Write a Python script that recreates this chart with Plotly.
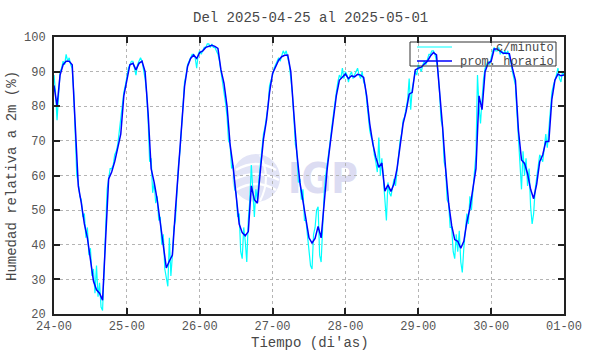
import base64
import plotly.graph_objects as go

# ---------------- data ----------------
hourly_rh = [86, 80, 89, 92, 93, 93, 92, 75, 57, 52, 46, 42, 35, 29.5, 27, 26, 24, 42, 59, 61,
             64, 68, 72, 83, 88, 92, 92.4, 90.5, 92.4, 93, 90, 78, 62, 58, 53, 46, 40, 33.3, 35.3, 37,
             50, 61, 72, 85.7, 91.5, 93.8, 94.8, 93.8, 95.5, 96, 97, 97.4, 97.6, 97.3, 96.7, 90.5, 86.6, 80, 69, 62.5,
             55, 46, 43.5, 42.6, 43.8, 57, 53, 52, 61.6, 70.5, 76, 84, 89.5, 91.5, 93.3, 94.3, 94.7, 94.8, 90, 78,
             66.5, 58, 53, 47.5, 42, 40.5, 41.8, 45.3, 42, 52, 62, 69.3, 76.5, 83, 87.5, 88.5, 89.3, 88, 88.8, 88.5,
             89.2, 89, 88.3, 83, 75, 69.3, 65.3, 62.4, 63.6, 55.5, 57.3, 55.4, 57.6, 62, 69, 75, 78.5, 83.5, 84, 90.5,
             91, 91.3, 92.2, 93, 94.5, 95.5, 94.8, 85.5, 74, 62, 52, 45.5, 41.5, 41, 39, 41, 46.5, 50.5, 57, 62,
             83, 79, 90, 92.4, 93, 96.5, 96.5, 95.8, 95.3, 95.3, 95.2, 91, 87.5, 73, 64.5, 63.5, 60.5, 56, 53.3, 57.5,
             64, 66, 69.8, 69.8, 82, 87.5, 89.3, 88.8, 89]
hourly_t = list(range(len(hourly_rh)))

# per-minute series (sampled every 30 min), one list per day
min_day24 = [89, 84, 76, 85, 90, 91, 93, 92, 95, 93, 94, 92, 91, 84, 70, 60, 58, 54, 53, 48, 49, 42, 45, 37,
             39, 31, 33, 26, 34, 25, 29, 22, 21, 32, 45, 56, 59, 62, 62, 63, 66, 67, 69, 73, 76, 80, 84, 86]
min_day25 = [89, 91, 92, 93, 93, 91, 89, 92, 93, 94, 93, 91, 88, 84, 76, 64, 65, 55, 58, 52, 54, 47, 48, 40,
             43, 33, 30, 28, 42, 31, 37, 45, 47, 57, 63, 67, 73, 80, 87, 89, 92, 93, 94, 95, 95, 94, 91, 95]
min_day26 = [96, 95, 96, 97, 97, 98, 98, 97, 98, 97, 97, 96, 95, 93, 90, 88, 84, 81, 77, 70, 69, 62, 63, 56,
             55, 48, 49, 38, 36, 45, 41, 35, 47, 53, 63, 54, 48, 56, 53, 59, 63, 67, 72, 74, 77, 80, 86, 88]
min_day27 = [89, 91, 92, 93, 94, 93, 95, 96, 95, 96, 94, 92, 88, 84, 77, 69, 67, 58, 59, 53, 56, 47, 47, 42,
             39, 34, 33, 43, 45, 50, 51, 37, 35, 47, 55, 60, 63, 66, 70, 74, 78, 81, 84, 87, 89, 88, 91, 88]
min_day28 = [90, 89, 87, 89, 90, 88, 89, 90, 91, 89, 88, 90, 87, 86, 82, 78, 73, 71, 70, 66, 64, 61, 71, 60,
             65, 59, 52, 47, 58, 55, 54, 56, 59, 57, 61, 66, 70, 72, 76, 77, 80, 82, 88, 79, 85, 87, 90, 89]
min_day29 = [92, 91, 90, 92, 93, 92, 94, 95, 95, 96, 96, 95, 93, 90, 84, 76, 74, 64, 62, 53, 52, 45, 45, 38,
             36, 43, 38, 44, 35, 32, 39, 45, 49, 46, 54, 50, 57, 61, 66, 89, 80, 75, 82, 88, 91, 92, 93, 92]
min_day30 = [94, 96, 97, 96, 96, 97, 95, 96, 95, 96, 95, 96, 94, 93, 90, 88, 86, 78, 71, 64, 56, 67, 60, 65,
             57, 62, 51, 46, 49, 56, 59, 62, 66, 65, 64, 68, 72, 68, 73, 80, 84, 86, 88, 89, 91, 88, 87, 90, 89]
minute_rh = min_day24 + min_day25 + min_day26 + min_day27 + min_day28 + min_day29 + min_day30
minute_t = [i * 0.5 for i in range(len(minute_rh))]

tick_hours = [0, 24, 48, 72, 96, 120, 144, 168]
tick_labels = ["24-00", "25-00", "26-00", "27-00", "28-00", "29-00", "30-00", "01-00"]
y_ticks = [20, 30, 40, 50, 60, 70, 80, 90, 100]

legend_names = ["c/minuto", "prom. horario"]

# ---------------- layout geometry (pixels) ----------------
W, H = 590, 354
L, R, T, B = 54, 564, 37, 314
PW, PH = R - L, B - T


def px(x):
    return (x - L) / PW


def py(y):
    return (B - y) / PH


FONT = "Liberation Mono, Courier New, monospace"
TXT = "#484848"

fig = go.Figure()
fig.add_trace(go.Scatter(x=minute_t, y=minute_rh, mode="lines", name=legend_names[0],
                         line=dict(color="#00ffff", width=1.2), showlegend=False, hoverinfo="skip"))
fig.add_trace(go.Scatter(x=hourly_t, y=hourly_rh, mode="lines", name=legend_names[1],
                         line=dict(color="#0000ff", width=1.5), showlegend=False))

axis_common = dict(showline=True, linecolor="#222222", linewidth=2, mirror="allticks",
                   ticks="inside", ticklen=6, tickwidth=1.5, tickcolor="#222222",
                   showgrid=True, gridcolor="#b4b4b4", griddash="dot", gridwidth=1,
                   zeroline=False, tickfont=dict(family=FONT, size=12, color="#555555"))

fig.update_xaxes(range=[0, 168], tickmode="array", tickvals=tick_hours, ticktext=tick_labels,
                 **axis_common)
fig.update_yaxes(range=[20, 100], tickmode="array", tickvals=y_ticks, ticklabelstandoff=4,
                 **axis_common)

# watermark logo
svg = (
    "<svg xmlns='http://www.w3.org/2000/svg' width='130' height='56' viewBox='0 0 130 56'>"
    "<circle cx='26' cy='28' r='24' fill='#e2e4f6'/>"
    "<path d='M6 20 Q26 8 46 20' stroke='#ffffff' stroke-width='2.5' fill='none'/>"
    "<path d='M3 30 Q26 18 49 30' stroke='#ffffff' stroke-width='2.5' fill='none'/>"
    "<path d='M6 40 Q26 28 46 40' stroke='#ffffff' stroke-width='2.5' fill='none'/>"
    "<path d='M30 5 Q42 28 30 51' stroke='#ffffff' stroke-width='2' fill='none'/>"
    "<text x='58' y='43' font-family='DejaVu Sans' font-weight='bold' font-size='42' "
    "textLength='70' lengthAdjust='spacingAndGlyphs' fill='#dcdcf2'>IGP</text>"
    "</svg>"
)
src = "data:image/svg+xml;base64," + base64.b64encode(svg.encode()).decode()
fig.add_layout_image(dict(source=src, xref="paper", yref="paper", x=px(230), y=py(150),
                          sizex=130 / PW, sizey=56 / PH, xanchor="left", yanchor="top",
                          sizing="stretch", layer="below"))

# manual legend
fig.add_shape(type="rect", xref="paper", yref="paper", x0=px(410), x1=px(556), y0=py(66), y1=py(42),
              line=dict(color="#333333", width=1), fillcolor="rgba(0,0,0,0)", layer="above")
fig.add_shape(type="line", xref="paper", yref="paper", x0=px(417), x1=px(452), y0=py(47), y1=py(47),
              line=dict(color="#00ffff", width=1))
fig.add_shape(type="line", xref="paper", yref="paper", x0=px(417), x1=px(452), y0=py(61), y1=py(61),
              line=dict(color="#0000ff", width=1.5))

annotations = [
    dict(text=legend_names[0], x=px(556), y=py(48), xanchor="right", yanchor="middle"),
    dict(text=legend_names[1], x=px(556), y=py(62), xanchor="right", yanchor="middle"),
]
for a in annotations:
    a.update(xref="paper", yref="paper", showarrow=False,
             font=dict(family=FONT, size=12, color=TXT))
    fig.add_annotation(**a)

fig.add_annotation(text="Del 2025-04-25 al 2025-05-01", xref="paper", yref="paper",
                   x=px(310), y=py(18), xanchor="center", yanchor="middle", showarrow=False,
                   font=dict(family=FONT, size=14, color=TXT))
fig.add_annotation(text="Tiempo (di'as)", xref="paper", yref="paper",
                   x=px(310), y=py(343), xanchor="center", yanchor="middle", showarrow=False,
                   font=dict(family=FONT, size=14, color=TXT))
fig.add_annotation(text="Humedad relativa a 2m (%)", xref="paper", yref="paper",
                   x=px(12), y=py(176), xanchor="center", yanchor="middle", showarrow=False,
                   textangle=-90, font=dict(family=FONT, size=14, color=TXT))

fig.update_layout(width=W, height=H, margin=dict(l=L, r=W - R, t=T, b=H - B, autoexpand=False),
                  paper_bgcolor="white", plot_bgcolor="white", showlegend=False)

fig.write_html("out.html")
